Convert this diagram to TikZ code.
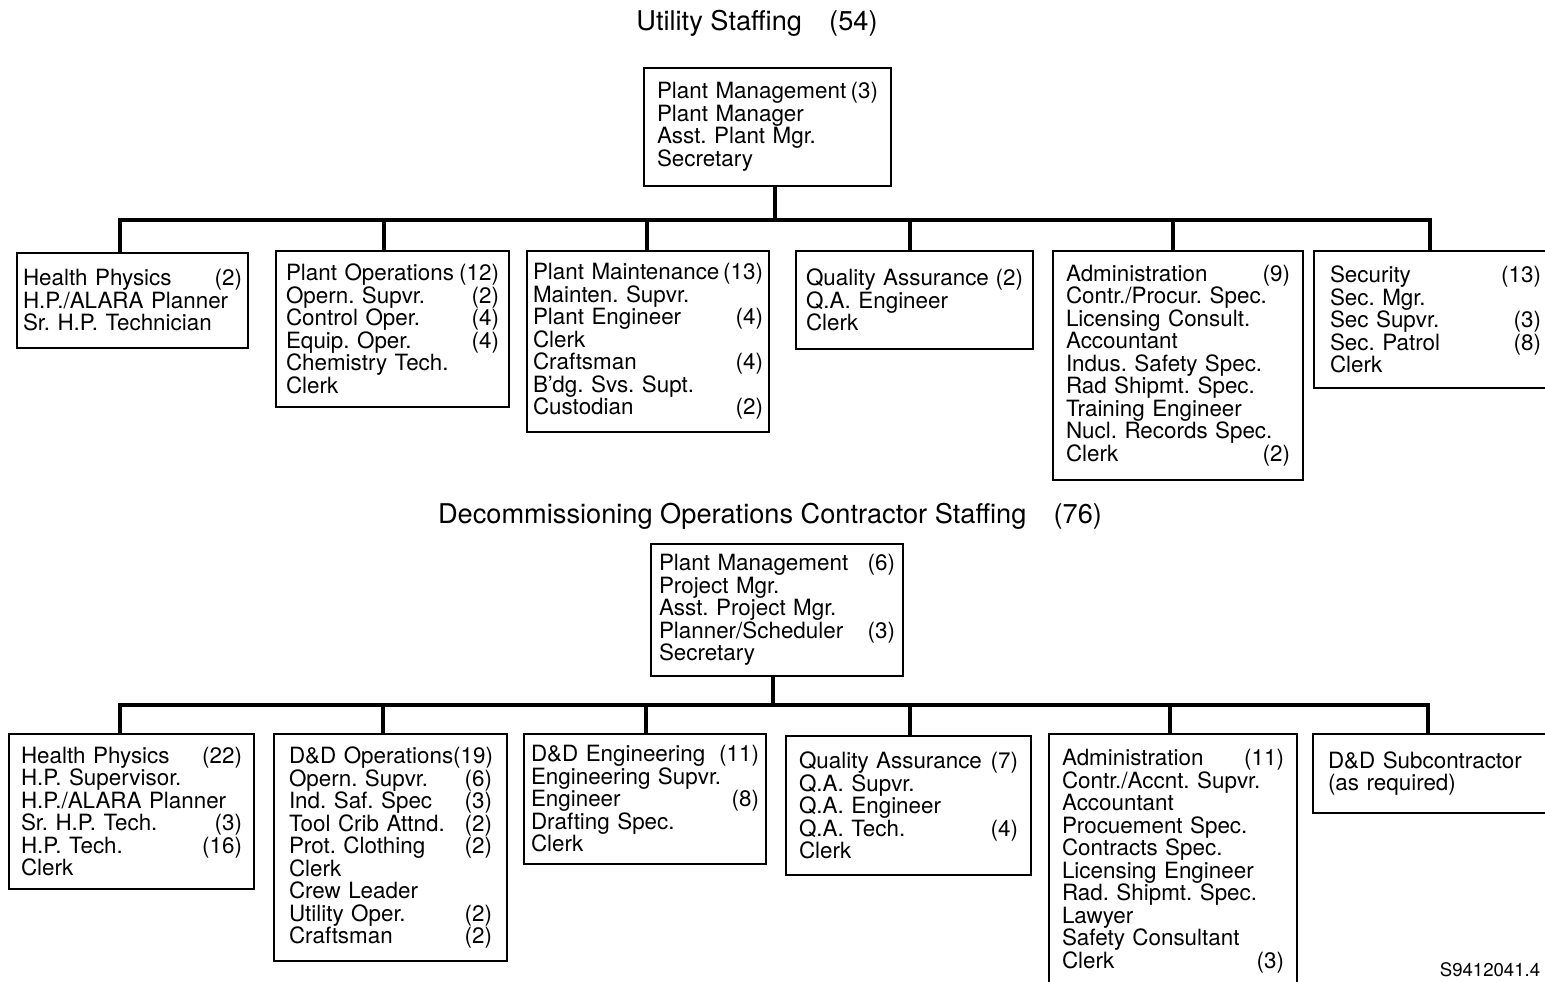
\documentclass[tikz,border=0pt]{standalone}
\usepackage{fontspec}
\setmainfont{TeX Gyre Heros}
\setlength{\parindent}{0pt}
\frenchspacing
% one line of a box: job on the left, head count on the right
\newcommand{\staff}[2]{\makebox[\hsize][l]{#1\hfill#2}}

\begin{document}
\begin{tikzpicture}[
    x=0.5pt, y=-0.5pt, % coordinates in pixels, y going down
    staffbox/.style={draw, line width=1pt, anchor=north west, align=left,
        inner ysep=0pt, font=\fontsize{11.2}{11.25}\selectfont},
    title/.style={font=\fontsize{13.6}{15}\selectfont},
    bus/.style={line width=2pt, line cap=rect}
]
\clip (0,0) rectangle (1545,981);

% Utility staffing
\node[title] (utitle) at (757,23) {Utility Staffing\quad(54)};
\node[staffbox, inner xsep=6.5pt, text width=110.5pt, minimum height=59pt] (upm) at (643,67)
    {\staff{Plant Management}{(3)}\\Plant Manager\\Asst. Plant Mgr.\\Secretary};

\node[staffbox, inner xsep=3pt, text width=109.5pt, minimum height=47.5pt] (uhp) at (16,252)
    {\staff{Health Physics}{(2)}\\H.P./ALARA Planner\\Sr. H.P. Technician};
\node[staffbox, inner xsep=5pt, text width=106.5pt, minimum height=78pt] (uops) at (275,250)
    {\staff{Plant Operations}{(12)}\\\staff{Opern. Supvr.}{(2)}\\\staff{Control Oper.}{(4)}\\
     \staff{Equip. Oper.}{(4)}\\Chemistry Tech.\\Clerk};
\node[staffbox, inner xsep=3pt, text width=115pt, minimum height=90.5pt] (umnt) at (526,250)
    {\staff{Plant Maintenance}{(13)}\\Mainten. Supvr.\\\staff{Plant Engineer}{(4)}\\Clerk\\
     \staff{Craftsman}{(4)}\\B'dg. Svs. Supt.\\\staff{Custodian}{(2)}};
\node[staffbox, inner xsep=5pt, text width=108.5pt, minimum height=49pt] (uqa) at (795,250)
    {\staff{Quality Assurance}{(2)}\\Q.A. Engineer\\Clerk};
\node[staffbox, inner xsep=6.5pt, text width=112pt, minimum height=114.5pt] (uadm) at (1052,250)
    {\staff{Administration}{(9)}\\Contr./Procur. Spec.\\Licensing Consult.\\Accountant\\
     Indus. Safety Spec.\\Rad Shipmt. Spec.\\Training Engineer\\Nucl. Records Spec.\\\staff{Clerk}{(2)}};
\node[staffbox, inner xsep=8pt, text width=105.5pt, minimum height=68.5pt] (usec) at (1313,250)
    {\staff{Security}{(13)}\\Sec. Mgr.\\\staff{Sec Supvr.}{(3)}\\\staff{Sec. Patrol}{(8)}\\Clerk};

\coordinate (ubus) at (775,220);
\draw[bus] (ubus |- upm.south) -- (ubus);
\foreach \x/\n [count=\i] in {120/uhp,384/uops,647/umnt,910/uqa,1173/uadm,1430/usec}{
    \coordinate (uj\i) at (\x,220);
    \draw[bus] (uj\i) -- (uj\i |- \n.north);
}
\draw[bus] (uj1) -- (uj6);

% Contractor staffing
\node[title] (dtitle) at (770,516) {Decommissioning Operations Contractor Staffing\quad(76)};
\node[staffbox, inner xsep=4pt, text width=118pt, minimum height=66pt] (dpm) at (650,543)
    {\staff{Plant Management}{(6)}\\Project Mgr.\\Asst. Project Mgr.\\\staff{Planner/Scheduler}{(3)}\\Secretary};

\node[staffbox, inner xsep=6pt, text width=110.5pt, minimum height=77.5pt] (dhp) at (8,733)
    {\staff{Health Physics}{(22)}\\H.P. Supervisor.\\H.P./ALARA Planner\\\staff{Sr. H.P. Tech.}{(3)}\\
     \staff{H.P. Tech.}{(16)}\\Clerk};
\node[staffbox, inner xsep=7.5pt, text width=101.5pt, minimum height=113.5pt] (dops) at (273,733)
    {\staff{D\&D Operations}{(19)}\\\staff{Opern. Supvr.}{(6)}\\\staff{Ind. Saf. Spec}{(3)}\\
     \staff{Tool Crib Attnd.}{(2)}\\\staff{Prot. Clothing}{(2)}\\Clerk\\Crew Leader\\
     \staff{Utility Oper.}{(2)}\\\staff{Craftsman}{(2)}};
\node[staffbox, inner xsep=3.5pt, text width=114pt, minimum height=65pt] (deng) at (523,733)
    {\staff{D\&D Engineering}{(11)}\\Engineering Supvr.\\\staff{Engineer}{(8)}\\Drafting Spec.\\Clerk};
\node[staffbox, inner xsep=6.5pt, text width=109.5pt, minimum height=69.5pt] (dqa) at (785,735)
    {\staff{Quality Assurance}{(7)}\\Q.A. Supvr.\\Q.A. Engineer\\\staff{Q.A. Tech.}{(4)}\\Clerk};
\node[staffbox, inner xsep=6.5pt, text width=111pt, minimum height=127pt] (dadm) at (1048,733)
    {\staff{Administration}{(11)}\\Contr./Accnt. Supvr.\\Accountant\\Procuement Spec.\\Contracts Spec.\\
     Licensing Engineer\\Rad. Shipmt. Spec.\\Lawyer\\Safety Consultant\\\staff{Clerk}{(3)}};
\node[staffbox, inner xsep=7.5pt, text width=105pt, minimum height=39.5pt] (dsub) at (1312,733)
    {D\&D Subcontractor\\(as required)};

\coordinate (dbus) at (773,705);
\draw[bus] (dbus |- dpm.south) -- (dbus);
\foreach \x/\n [count=\i] in {120/dhp,383/dops,646/deng,910/dqa,1170/dadm,1428/dsub}{
    \coordinate (dj\i) at (\x,705);
    \draw[bus] (dj\i) -- (dj\i |- \n.north);
}
\draw[bus] (dj1) -- (dj6);

\node[font=\fontsize{9.3}{11}\selectfont] (figno) at (1490,970) {S9412041.4};
\end{tikzpicture}
\end{document}
